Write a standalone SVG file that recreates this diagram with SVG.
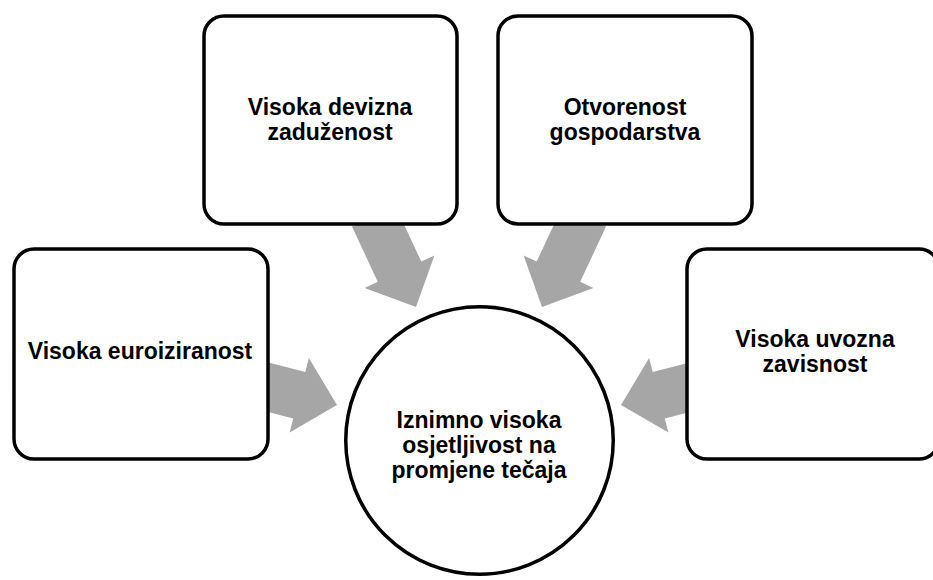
<svg xmlns="http://www.w3.org/2000/svg" width="933" height="580" viewBox="0 0 933 580">
<defs>
<style>
.box{fill:#fff;stroke:#000;stroke-width:3.5}
.arr{fill:#a6a6a6;stroke:none}
.t{font-family:"Liberation Sans",Arial,sans-serif;font-weight:bold;font-size:23px;fill:#000;text-anchor:middle}
</style>
<polygon id="arrowShape" points="0,0 -39,-38.5 -39,-24 -100,-24 -100,24 -39,24 -39,38.5"/>
</defs>
<rect width="933" height="580" fill="#fff"/>
<g id="connectors">
<use href="#arrowShape" class="arr" transform="translate(337,405) rotate(14.5)"/>
<use href="#arrowShape" class="arr" transform="translate(621,405) rotate(165.5)"/>
<use href="#arrowShape" class="arr" transform="translate(416,307) rotate(65)"/>
<use href="#arrowShape" class="arr" transform="translate(542,307) rotate(115)"/>
</g>
<g id="node-devizna">
<rect class="box" x="204" y="16" width="253" height="208" rx="20"/>
<text class="t" x="330" y="115">Visoka devizna</text>
<text class="t" x="330" y="140">zaduženost</text>
</g>
<g id="node-otvorenost">
<rect class="box" x="498" y="16" width="254" height="208" rx="20"/>
<text class="t" x="625" y="115">Otvorenost</text>
<text class="t" x="625" y="140">gospodarstva</text>
</g>
<g id="node-euroiziranost">
<rect class="box" x="14" y="249" width="254" height="210" rx="20"/>
<text class="t" x="140" y="359">Visoka euroiziranost</text>
</g>
<g id="node-uvozna">
<rect class="box" x="687" y="249" width="252" height="210" rx="20"/>
<text class="t" x="815" y="347">Visoka uvozna</text>
<text class="t" x="815" y="372">zavisnost</text>
</g>
<g id="node-center">
<circle class="box" cx="479.5" cy="440.5" r="133.75"/>
<text class="t" x="479" y="428">Iznimno visoka</text>
<text class="t" x="479" y="453">osjetljivost na</text>
<text class="t" x="479" y="478">promjene tečaja</text>
</g>
</svg>
